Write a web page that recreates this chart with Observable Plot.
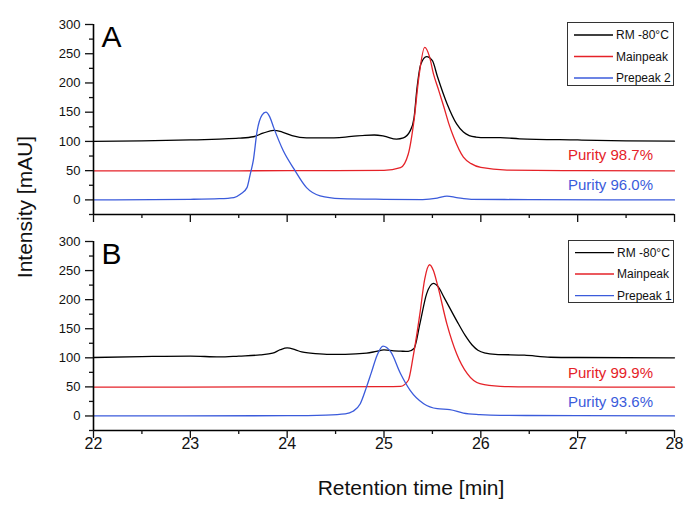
<!DOCTYPE html>
<html>
<head>
<meta charset="utf-8">
<script src="https://cdn.jsdelivr.net/npm/d3@7"></script>
<script src="https://cdn.jsdelivr.net/npm/@observablehq/plot@0.6"></script>
<style>
  body { margin: 0; background: #fff; }
  #chart { position: relative; width: 700px; height: 517px; overflow: hidden; background: #fff;
           font-family: "Liberation Sans", Arial, sans-serif; color: #111; }
  #chart > svg, #chart > div { position: absolute; }
  .ytitle { left: 25px; top: 207px; transform: translate(-50%, -50%) rotate(-90deg);
            font-size: 21px; white-space: nowrap; }
</style>
</head>
<body>
<div id="chart"></div>
<script>
// ---------- axes ----------
const xDomain = [22, 28];
const yDomain = [-25, 300];
const xTicks = [22, 23, 24, 25, 26, 27, 28];
const xMinorTicks = [22.5, 23.5, 24.5, 25.5, 26.5, 27.5];
const yTicks = [0, 50, 100, 150, 200, 250, 300];
const yMinorTicks = [-25, 25, 75, 125, 175, 225, 275];
const xTitle = "Retention time [min]";
const yTitle = "Intensity [mAU]";

// ---------- series ----------
const seriesKeys = ["rm", "main", "pre"];
const seriesColors = ["#000000", "#e52228", "#3b5bdb"];
const legendA = ["RM -80°C", "Mainpeak", "Prepeak 2"];
const legendB = ["RM -80°C", "Mainpeak", "Prepeak 1"];

// Panel A
const aRmT = [22, 22.5, 23, 23.3, 23.5, 23.65, 23.75, 23.86, 23.95, 24.05, 24.2, 24.4, 24.6, 24.8, 24.9, 25.0, 25.13, 25.2, 25.27, 25.31, 25.34, 25.38, 25.44, 25.5, 25.55, 25.65, 25.75, 25.82, 25.88, 25.95, 26.05, 26.2, 26.4, 27.0, 27.5, 28];
const aRmV = [100, 101, 102.5, 104, 105.5, 108, 114, 119, 116, 110, 106, 106, 107.5, 110.5, 111, 109, 104, 106, 118, 140, 190, 232, 245, 238, 212, 165, 130, 116, 110, 107.5, 106.5, 106.5, 104.5, 102.5, 101, 100.5];
const aMainT = [22, 23, 24, 24.5, 25.0, 25.17, 25.25, 25.31, 25.36, 25.42, 25.47, 25.51, 25.56, 25.62, 25.67, 25.72, 25.82, 25.9, 26.0, 26.27, 27, 28];
const aMainV = [49.5, 49.5, 50, 50, 50.5, 55, 78, 136, 210, 261, 245, 216, 190, 158, 130, 107, 73, 62, 55.5, 51, 50, 49.5];
const aPreT = [22, 23, 23.3, 23.45, 23.52, 23.585, 23.62, 23.65, 23.69, 23.74, 23.78, 23.82, 23.86, 23.96, 24.07, 24.2, 24.34, 24.55, 25.0, 25.4, 25.55, 25.65, 25.75, 25.9, 26.5, 28];
const aPreV = [0, 1, 2, 4, 10, 21, 45, 67, 118, 145, 150, 142, 124, 84, 53, 21, 7, 2.3, 1, 0.5, 3, 6.5, 4, 1, 0.5, 0];

// Panel B
const bRmT = [22, 22.5, 23, 23.3, 23.5, 23.72, 23.85, 23.93, 24.0, 24.08, 24.15, 24.24, 24.41, 24.6, 24.82, 24.92, 25.0, 25.1, 25.17, 25.25, 25.31, 25.37, 25.44, 25.51, 25.56, 25.62, 25.75, 25.84, 25.91, 25.97, 26.05, 26.15, 26.45, 26.72, 27, 28];
const bRmV = [100.5, 102, 103, 101.5, 103, 105, 108, 114, 117, 114, 110, 108, 106, 106, 108, 111, 113.5, 112, 111.5, 111, 116, 158, 210, 228, 222, 204, 164, 138, 122, 113, 108, 106, 104.5, 101, 100.5, 100];
const bMainT = [22, 24, 25.0, 25.17, 25.25, 25.30, 25.37, 25.42, 25.47, 25.51, 25.55, 25.65, 25.75, 25.86, 25.99, 26.2, 26.5, 28];
const bMainV = [49.5, 50, 50.5, 51, 61, 101, 175, 235, 260, 250, 227, 158, 107, 72.7, 55.5, 51, 50, 49.5];
const bPreT = [22, 24, 24.4, 24.6, 24.68, 24.755, 24.82, 24.87, 24.93, 24.99, 25.07, 25.17, 25.27, 25.41, 25.55, 25.68, 25.82, 25.99, 26.2, 27, 28];
const bPreV = [0, 0.5, 1.5, 3.5, 8, 21, 50, 75, 105, 120, 110, 73, 44, 21, 12.5, 11, 5, 2.4, 1, 0.5, 0];

// Annotations
const purityTextA = ["Purity 98.7%", "Purity 96.0%"];
const purityTextB = ["Purity 99.9%", "Purity 93.6%"];
const purityT = [26.9, 26.9];
const purityVA = [77, 25];
const purityVB = [74, 24];
const panelLabels = ["A", "B"];

// ---------- build ----------
const FONT = '"Liberation Sans", Arial, sans-serif';
const toRows = (key, ts, vs) => ts.map((t, i) => ({series: key, t, v: vs[i]}));
const rowsA = [...toRows("rm", aRmT, aRmV), ...toRows("main", aMainT, aMainV), ...toRows("pre", aPreT, aPreV)];
const rowsB = [...toRows("rm", bRmT, bRmV), ...toRows("main", bMainT, bMainV), ...toRows("pre", bPreT, bPreV)];
const purA = purityTextA.map((text, i) => ({text, t: purityT[i], v: purityVA[i], series: ["main", "pre"][i]}));
const purB = purityTextB.map((text, i) => ({text, t: purityT[i], v: purityVB[i], series: ["main", "pre"][i]}));

function panel({rows, pur, label, height, marginTop, marginBottom, bottom}) {
  return Plot.plot({
    width: 700, height, marginLeft: 93, marginRight: 26, marginTop, marginBottom,
    style: {fontFamily: FONT, fontSize: "13px", color: "#111", background: "transparent", overflow: "visible"},
    x: {domain: xDomain},
    y: {domain: yDomain},
    color: {domain: seriesKeys, range: seriesColors},
    marks: [
      Plot.lineY(rows, {x: "t", y: "v", z: "series", stroke: "series", strokeWidth: 1.3, curve: "monotone-x"}),
      Plot.ruleX([xDomain[0]], {y1: yDomain[0], y2: yDomain[1], stroke: "#000", strokeWidth: 1.6}),
      Plot.ruleY([yDomain[0]], {x1: xDomain[0], x2: xDomain[1], stroke: "#000", strokeWidth: 1.6}),
      Plot.axisY(yTicks, {tickSize: 8, tickPadding: 5, fontSize: 13, strokeWidth: 1.3, label: null}),
      Plot.axisY(yMinorTicks, {tickSize: 4, fill: "none", strokeWidth: 1.3, label: null}),
      Plot.axisX(xTicks, {tickSize: 8, fill: "none", strokeWidth: 1.3, label: null}),
      Plot.axisX(xMinorTicks, {tickSize: 4, fill: "none", strokeWidth: 1.3, label: null}),
      bottom ? Plot.axisX(xTicks, {tickSize: 0, tickPadding: 7, fontSize: 16, label: null}) : null,
      bottom ? Plot.text([xTitle], {frameAnchor: "bottom", dx: 27, dy: 58, fontSize: 21, lineAnchor: "middle", fill: "#111"}) : null,
      Plot.text(pur, {x: "t", y: "v", text: "text", fill: "series", textAnchor: "start", lineAnchor: "middle", fontSize: 15}),
      Plot.text([label], {frameAnchor: "top-left", dx: 8, dy: 1, lineAnchor: "top", fontSize: 30, fill: "#000"})
    ]
  });
}

function legend(names, left, top, w, h, rowYs) {
  const ns = "http://www.w3.org/2000/svg";
  const svg = document.createElementNS(ns, "svg");
  svg.setAttribute("width", w); svg.setAttribute("height", h);
  svg.style.left = left + "px"; svg.style.top = top + "px"; svg.style.position = "absolute";
  const rect = document.createElementNS(ns, "rect");
  rect.setAttribute("x", 0.5); rect.setAttribute("y", 0.5);
  rect.setAttribute("width", w - 1); rect.setAttribute("height", h - 1);
  rect.setAttribute("fill", "#fff"); rect.setAttribute("stroke", "#333");
  svg.appendChild(rect);
  names.forEach((name, i) => {
    const line = document.createElementNS(ns, "line");
    line.setAttribute("x1", 7); line.setAttribute("x2", 46);
    line.setAttribute("y1", rowYs[i]); line.setAttribute("y2", rowYs[i]);
    line.setAttribute("stroke", seriesColors[i]); line.setAttribute("stroke-width", 1.3);
    svg.appendChild(line);
    const txt = document.createElementNS(ns, "text");
    txt.setAttribute("x", 49); txt.setAttribute("y", rowYs[i]);
    txt.setAttribute("dy", "0.35em");
    txt.setAttribute("font-family", FONT); txt.setAttribute("font-size", 12);
    txt.setAttribute("fill", "#111");
    txt.textContent = name;
    svg.appendChild(txt);
  });
  return svg;
}

const chart = document.getElementById("chart");
const pa = panel({rows: rowsA, pur: purA, label: panelLabels[0], height: 228, marginTop: 24, marginBottom: 14, bottom: false});
pa.style.position = "absolute"; pa.style.left = "0px"; pa.style.top = "0px";
const pb = panel({rows: rowsB, pur: purB, label: panelLabels[1], height: 289, marginTop: 13, marginBottom: 87, bottom: true});
pb.style.position = "absolute"; pb.style.left = "0px"; pb.style.top = "228px";
chart.appendChild(pb);
chart.appendChild(pa);
chart.appendChild(legend(legendA, 567, 22, 107, 64, [13, 34.5, 56]));
chart.appendChild(legend(legendB, 568, 240, 106, 63, [12.7, 34, 55.7]));
const yt = document.createElement("div");
yt.className = "ytitle";
yt.textContent = yTitle;
chart.appendChild(yt);
</script>
</body>
</html>
